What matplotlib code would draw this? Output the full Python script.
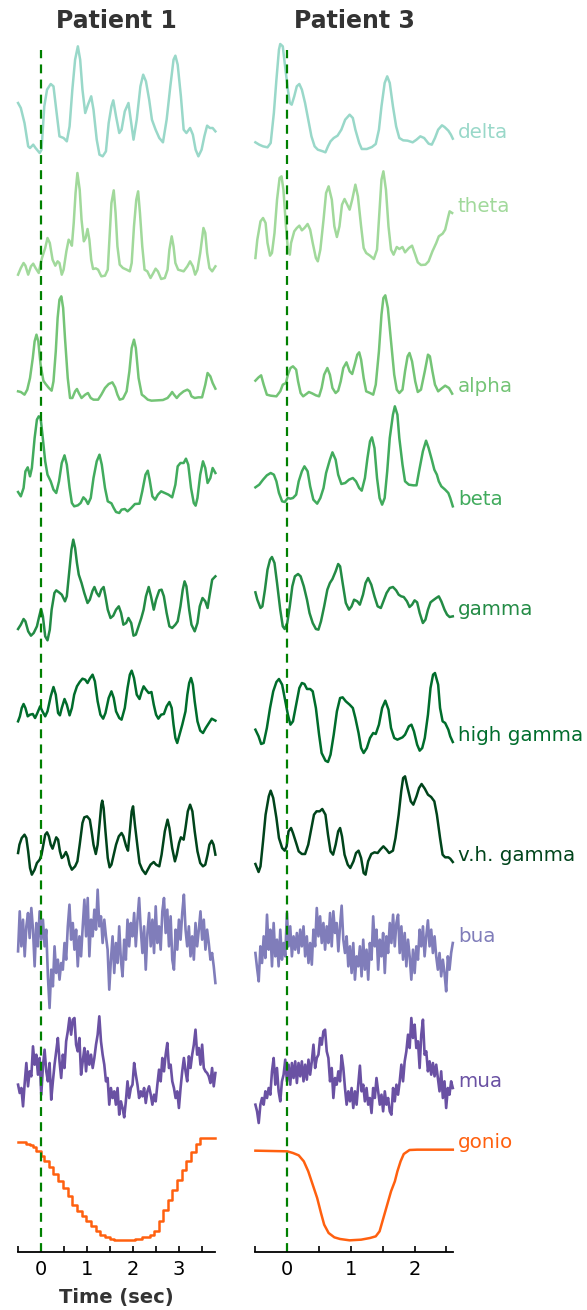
import numpy as np
import matplotlib.pyplot as plt

W, H = 587, 1310

bands = ['delta', 'theta', 'alpha', 'beta', 'gamma', 'high gamma',
         'v.h. gamma', 'bua', 'mua', 'gonio']
colors = ['#99d8c9', '#a1d99b', '#74c476', '#41ab5d', '#238b45',
          '#006d2c', '#00441b', '#807dba', '#6a51a3', '#ff600f']

# ---- Patient 1 (time in sec, amplitude in arbitrary units) ----
p1_delta_t = [-0.49, -0.43, -0.35, -0.27, -0.23, -0.16, -0.11, -0.02, 0.02, 0.08,
              0.14, 0.22, 0.28, 0.34, 0.41, 0.50, 0.57, 0.63, 0.69, 0.75,
              0.81, 0.86, 0.91, 0.97, 1.03, 1.10, 1.15, 1.22, 1.28, 1.35,
              1.42, 1.48, 1.54, 1.58, 1.64, 1.71, 1.76, 1.83, 1.91, 1.97,
              2.02, 2.09, 2.17, 2.23, 2.29, 2.36, 2.42, 2.50, 2.58, 2.66,
              2.74, 2.82, 2.89, 2.93, 2.98, 3.05, 3.11, 3.17, 3.25, 3.31,
              3.37, 3.43, 3.50, 3.56, 3.62, 3.68, 3.74, 3.80]
p1_delta = [21.0, 19.5, 15.0, 8.0, 7.5, 8.5, 7.5, 6.0, 7.0, 20.0,
            25.0, 26.7, 26.0, 19.0, 11.0, 10.5, 9.5, 14.0, 25.0, 34.0,
            38.0, 34.0, 25.0, 18.0, 20.5, 23.0, 19.0, 10.0, 5.5, 5.0,
            6.5, 15.0, 20.0, 21.8, 17.0, 12.0, 13.0, 18.5, 21.0, 15.0,
            10.0, 16.0, 26.0, 29.5, 27.5, 22.0, 16.0, 13.0, 10.5, 9.2,
            16.0, 26.0, 34.0, 35.2, 32.5, 23.0, 13.0, 12.0, 13.5, 11.5,
            7.0, 5.0, 7.0, 11.0, 14.2, 13.5, 13.5, 12.5]

p1_theta_t = [-0.49, -0.43, -0.37, -0.33, -0.27, -0.21, -0.16, -0.11, -0.04, -0.02,
              0.03, 0.10, 0.15, 0.20, 0.26, 0.32, 0.37, 0.41, 0.46, 0.50,
              0.56, 0.61, 0.65, 0.68, 0.72, 0.76, 0.80, 0.85, 0.89, 0.94,
              0.98, 1.02, 1.06, 1.10, 1.14, 1.20, 1.25, 1.32, 1.40, 1.46,
              1.50, 1.54, 1.59, 1.63, 1.67, 1.72, 1.79, 1.87, 1.94, 1.98,
              2.03, 2.08, 2.12, 2.16, 2.21, 2.26, 2.32, 2.39, 2.45, 2.50,
              2.55, 2.62, 2.70, 2.76, 2.80, 2.85, 2.89, 2.93, 2.99, 3.11,
              3.19, 3.25, 3.31, 3.36, 3.41, 3.47, 3.54, 3.58, 3.62, 3.67,
              3.73, 3.80]
p1_theta = [5.5, 7.5, 9.0, 8.2, 5.5, 8.0, 8.8, 7.5, 6.0, 7.5,
            10.5, 13.5, 16.5, 15.0, 10.0, 8.2, 9.5, 9.0, 5.5, 7.0,
            12.5, 16.0, 15.2, 14.2, 21.0, 30.0, 36.0, 31.0, 22.0, 15.5,
            16.5, 19.2, 16.0, 10.0, 7.2, 7.4, 7.0, 5.0, 5.2, 7.0,
            17.0, 27.0, 30.8, 24.0, 14.0, 8.5, 7.5, 7.0, 6.5, 9.0,
            20.0, 28.0, 30.5, 24.0, 14.0, 7.0, 6.5, 4.5, 6.0, 7.3,
            6.5, 4.2, 4.5, 7.0, 13.0, 17.0, 14.0, 9.0, 7.0, 6.5,
            8.0, 9.5, 8.0, 5.5, 7.0, 12.0, 19.5, 18.0, 12.0, 7.5,
            6.5, 8.0]

p1_alpha_t = [-0.49, -0.43, -0.35, -0.29, -0.23, -0.17, -0.13, -0.09, -0.05, 0.00,
              0.06, 0.11, 0.18, 0.24, 0.28, 0.33, 0.37, 0.41, 0.45, 0.49,
              0.53, 0.59, 0.64, 0.69, 0.75, 0.79, 0.83, 0.89, 0.97, 1.03,
              1.09, 1.15, 1.25, 1.32, 1.40, 1.48, 1.56, 1.62, 1.67, 1.72,
              1.79, 1.87, 1.93, 1.98, 2.03, 2.07, 2.13, 2.20, 2.25, 2.33,
              2.41, 2.54, 2.66, 2.76, 2.82, 2.86, 2.90, 2.96, 3.02, 3.11,
              3.19, 3.24, 3.28, 3.35, 3.43, 3.51, 3.58, 3.63, 3.69, 3.74,
              3.80]
p1_alpha = [8.0, 7.8, 7.0, 8.5, 12.0, 18.0, 23.0, 25.0, 23.0, 16.0,
            11.2, 10.2, 9.0, 8.2, 11.0, 20.0, 30.0, 35.5, 36.5, 33.0,
            24.0, 12.0, 6.0, 6.0, 8.0, 8.7, 7.5, 6.0, 7.0, 7.5,
            6.0, 5.5, 5.5, 7.0, 9.0, 10.2, 10.7, 9.2, 7.0, 5.5,
            5.8, 8.0, 14.0, 21.0, 23.5, 21.0, 12.0, 7.0, 6.5, 5.5,
            5.2, 5.3, 5.4, 6.0, 7.0, 7.8, 7.0, 6.0, 7.0, 8.0,
            8.5, 8.0, 6.5, 6.0, 6.2, 6.2, 10.0, 13.5, 12.5, 10.5,
            8.8]

p1_beta_t = [-0.49, -0.43, -0.37, -0.33, -0.28, -0.23, -0.19, -0.13, -0.08, -0.04,
             0.00, 0.04, 0.10, 0.15, 0.22, 0.28, 0.34, 0.40, 0.46, 0.52,
             0.57, 0.63, 0.68, 0.73, 0.81, 0.87, 0.93, 0.98, 1.03, 1.09,
             1.15, 1.22, 1.28, 1.33, 1.40, 1.46, 1.54, 1.59, 1.64, 1.71,
             1.76, 1.83, 1.89, 1.97, 2.05, 2.15, 2.21, 2.28, 2.33, 2.37,
             2.43, 2.49, 2.55, 2.62, 2.70, 2.78, 2.86, 2.93, 2.98, 3.04,
             3.11, 3.16, 3.21, 3.27, 3.33, 3.37, 3.41, 3.47, 3.53, 3.58,
             3.63, 3.69, 3.74, 3.80]
p1_beta = [13.8, 12.5, 15.0, 20.0, 21.2, 18.5, 21.0, 30.0, 35.5, 36.5,
           36.0, 31.0, 23.0, 19.0, 17.0, 14.5, 13.5, 17.0, 22.5, 24.8,
           22.0, 15.0, 10.5, 9.5, 9.8, 10.5, 12.2, 11.5, 10.2, 12.0,
           18.0, 23.0, 25.0, 22.0, 15.0, 11.0, 10.4, 9.0, 7.8, 7.5,
           8.5, 8.7, 8.0, 9.0, 10.2, 10.3, 14.0, 19.0, 20.2, 17.5,
           12.5, 11.5, 13.0, 14.0, 13.5, 13.0, 12.2, 16.0, 21.5, 22.5,
           22.5, 23.8, 22.0, 15.0, 10.5, 9.7, 12.0, 19.0, 23.0, 21.0,
           16.5, 18.0, 21.0, 19.5]

p1_gamma_t = [-0.49, -0.43, -0.37, -0.33, -0.27, -0.21, -0.15, -0.08, -0.03, 0.01,
              0.05, 0.10, 0.15, 0.20, 0.24, 0.30, 0.34, 0.40, 0.46, 0.53,
              0.57, 0.62, 0.67, 0.71, 0.75, 0.79, 0.83, 0.89, 0.95, 1.02,
              1.07, 1.13, 1.17, 1.22, 1.27, 1.32, 1.37, 1.41, 1.46, 1.52,
              1.58, 1.64, 1.70, 1.75, 1.80, 1.86, 1.91, 1.97, 2.02, 2.07,
              2.13, 2.19, 2.24, 2.29, 2.35, 2.40, 2.46, 2.51, 2.58, 2.63,
              2.68, 2.74, 2.80, 2.86, 2.93, 2.98, 3.04, 3.09, 3.13, 3.17,
              3.23, 3.28, 3.35, 3.41, 3.46, 3.52, 3.58, 3.63, 3.67, 3.73,
              3.80]
p1_gamma = [10.2, 11.5, 13.2, 12.5, 9.5, 8.2, 9.0, 11.0, 14.0, 16.2,
            14.0, 8.0, 6.8, 10.0, 16.0, 21.0, 21.8, 21.2, 20.5, 18.5,
            20.0, 27.0, 34.0, 37.0, 34.5, 30.0, 26.5, 24.0, 21.0, 18.0,
            19.0, 21.7, 22.8, 21.0, 20.0, 22.0, 22.8, 20.0, 16.0, 13.5,
            14.2, 16.0, 17.0, 15.0, 11.5, 12.0, 13.5, 12.0, 8.2, 8.5,
            11.0, 13.5, 16.0, 20.0, 22.8, 20.0, 16.0, 19.0, 21.8, 22.0,
            20.0, 15.0, 11.0, 10.5, 11.5, 12.5, 17.0, 22.0, 24.5, 23.0,
            16.0, 11.5, 9.5, 12.0, 17.0, 19.5, 18.5, 16.5, 20.0, 25.0,
            26.0]

p1_hgamma_t = [-0.49, -0.45, -0.41, -0.37, -0.33, -0.28, -0.23, -0.17, -0.12, -0.07,
               -0.01, 0.04, 0.10, 0.15, 0.22, 0.28, 0.33, 0.38, 0.42, 0.46,
               0.52, 0.57, 0.63, 0.68, 0.73, 0.79, 0.85, 0.91, 0.97, 1.02,
               1.07, 1.13, 1.18, 1.24, 1.30, 1.36, 1.41, 1.48, 1.54, 1.59,
               1.64, 1.71, 1.76, 1.83, 1.89, 1.94, 1.98, 2.03, 2.09, 2.15,
               2.20, 2.24, 2.29, 2.35, 2.41, 2.46, 2.51, 2.56, 2.62, 2.68,
               2.74, 2.80, 2.85, 2.89, 2.93, 2.97, 3.02, 3.08, 3.15, 3.19,
               3.23, 3.27, 3.31, 3.35, 3.41, 3.47, 3.53, 3.59, 3.66, 3.72,
               3.80]
p1_hgamma = [20.0, 21.5, 24.0, 25.2, 24.0, 21.5, 22.0, 22.2, 21.0, 22.5,
             24.5, 23.0, 21.5, 23.0, 27.5, 30.3, 28.0, 22.5, 21.8, 24.0,
             26.7, 25.0, 21.8, 24.0, 28.0, 30.5, 31.8, 32.8, 32.5, 31.5,
             32.8, 34.0, 32.0, 26.0, 22.0, 20.8, 22.5, 27.0, 29.0, 27.0,
             23.0, 21.0, 20.5, 24.0, 30.0, 34.0, 35.2, 33.0, 28.0, 26.7,
             29.0, 30.5, 29.5, 28.5, 28.8, 25.0, 22.0, 20.8, 22.0, 22.2,
             24.5, 25.8, 24.0, 19.0, 15.0, 13.5, 16.0, 19.0, 23.0, 28.0,
             31.5, 33.0, 31.0, 26.0, 20.0, 17.2, 16.5, 18.0, 19.5, 20.8,
             20.2]

p1_vhgamma_t = [-0.49, -0.46, -0.41, -0.35, -0.31, -0.27, -0.23, -0.19, -0.13, -0.08,
                -0.02, 0.02, 0.06, 0.10, 0.14, 0.18, 0.22, 0.26, 0.30, 0.34,
                0.38, 0.42, 0.46, 0.50, 0.55, 0.59, 0.63, 0.68, 0.75, 0.80,
                0.85, 0.91, 0.95, 1.01, 1.07, 1.11, 1.15, 1.20, 1.24, 1.28,
                1.32, 1.34, 1.37, 1.41, 1.46, 1.50, 1.54, 1.59, 1.64, 1.70,
                1.76, 1.80, 1.86, 1.90, 1.94, 1.98, 2.01, 2.05, 2.11, 2.15,
                2.21, 2.28, 2.33, 2.39, 2.46, 2.51, 2.58, 2.63, 2.70, 2.76,
                2.80, 2.86, 2.92, 2.96, 3.01, 3.05, 3.11, 3.15, 3.20, 3.25,
                3.30, 3.35, 3.41, 3.47, 3.53, 3.58, 3.63, 3.67, 3.72, 3.76,
                3.80]
p1_vhgamma = [13.5, 16.0, 18.0, 19.0, 18.0, 14.0, 9.0, 7.0, 8.5, 10.5,
              11.5, 13.0, 16.0, 19.0, 19.7, 18.5, 16.0, 14.8, 16.5, 18.2,
              17.5, 14.0, 12.0, 12.5, 13.8, 12.5, 10.0, 8.5, 9.5, 11.0,
              16.0, 22.5, 24.2, 24.5, 23.5, 20.0, 16.0, 13.2, 16.0, 22.0,
              28.0, 29.2, 27.0, 20.0, 12.0, 9.2, 10.0, 13.0, 16.0, 18.5,
              19.5, 18.5, 15.5, 14.2, 20.0, 26.0, 27.5, 22.0, 15.0, 10.5,
              8.5, 7.2, 8.5, 10.0, 10.8, 10.0, 9.5, 13.0, 20.0, 23.5,
              21.0, 15.0, 11.0, 13.0, 16.5, 18.2, 17.5, 21.0, 26.0, 28.0,
              26.0, 20.0, 14.0, 10.5, 9.5, 10.0, 13.0, 16.0, 17.2, 16.0,
              13.0]

# noisy traces sampled on an even time base
p1_bua = [18.5, 30.5, 20.0, 28.0, 17.0, 26.0, 30.0, 22.5, 31.5, 25.0,
          14.0, 27.0, 20.0, 30.5, 22.0, 28.0, 20.0, 25.0, 11.0, 1.5,
          13.0, 8.0, 20.0, 12.0, 16.0, 10.0, 15.0, 13.0, 21.0, 16.0,
          26.0, 32.5, 22.0, 27.0, 19.0, 25.0, 14.0, 23.0, 17.0, 26.0,
          34.0, 23.0, 34.5, 17.0, 28.0, 23.0, 31.0, 25.0, 37.0, 26.0,
          29.0, 21.0, 28.0, 23.0, 19.0, 7.0, 16.0, 23.0, 12.0, 21.0,
          15.0, 26.0, 16.0, 11.0, 22.0, 16.0, 28.0, 20.0, 27.0, 23.0,
          30.0, 20.0, 28.0, 34.5, 25.0, 18.0, 26.0, 13.0, 24.0, 30.0,
          20.0, 28.0, 18.0, 32.0, 21.0, 26.0, 19.0, 30.5, 34.5, 24.0,
          31.0, 20.0, 29.0, 16.0, 13.0, 25.0, 19.0, 28.0, 22.0, 30.0,
          35.5, 25.0, 20.0, 26.0, 17.0, 23.0, 16.0, 27.0, 20.0, 25.0,
          30.5, 22.0, 28.0, 19.0, 25.0, 21.0, 16.0, 18.0, 14.0, 9.0]
p1_bua_t = np.linspace(-0.49, 3.80, len(p1_bua))

p1_mua = [16.0, 13.5, 15.0, 9.5, 16.5, 22.5, 15.5, 20.0, 18.5, 27.5,
          22.0, 25.0, 19.0, 24.0, 13.0, 21.5, 26.5, 20.0, 17.0, 22.5,
          11.5, 17.0, 22.0, 26.0, 30.0, 23.0, 18.0, 25.0, 21.0, 29.0,
          32.0, 36.0, 31.0, 35.5, 36.0, 28.0, 26.0, 30.0, 19.0, 23.0,
          27.0, 20.0, 26.0, 22.0, 25.0, 21.0, 24.0, 28.0, 31.0, 36.5,
          29.0, 25.0, 22.0, 17.0, 18.0, 10.0, 15.0, 12.0, 14.0, 10.0,
          15.0, 7.0, 11.0, 9.0, 6.2, 11.0, 17.0, 12.0, 15.0, 16.0,
          22.5, 19.0, 16.0, 12.0, 14.0, 12.5, 15.0, 10.5, 14.0, 15.5,
          13.0, 10.0, 13.0, 11.0, 16.0, 20.5, 17.0, 24.0, 20.0, 25.0,
          28.5, 21.0, 22.0, 17.0, 15.0, 12.0, 14.0, 9.0, 15.0, 20.0,
          24.0, 20.0, 17.0, 24.5, 21.0, 25.0, 28.0, 32.5, 25.0, 27.0,
          22.0, 28.0, 21.0, 20.0, 19.5, 18.5, 16.5, 21.0, 15.5, 19.5]
p1_mua_t = np.linspace(-0.49, 3.80, len(p1_mua))

p1_gonio_t = [-0.49, -0.31, -0.23, -0.16, -0.11, 0.00, 0.08, 0.18, 0.28, 0.38,
              0.49, 0.59, 0.69, 0.79, 0.89, 0.99, 1.09, 1.20, 1.30, 1.40,
              1.50, 1.60, 1.89, 2.05, 2.21, 2.37, 2.47, 2.58, 2.67, 2.76,
              2.86, 2.96, 3.07, 3.16, 3.27, 3.37, 3.47, 3.80]
p1_gonio = [34.8, 34.3, 33.8, 33.2, 32.0, 30.5, 29.2, 27.2, 25.2, 23.0,
            21.0, 18.7, 16.0, 14.0, 12.5, 11.0, 9.7, 8.2, 7.0, 6.2,
            5.8, 5.5, 5.5, 5.8, 6.2, 7.0, 8.2, 11.2, 14.5, 17.5,
            20.5, 23.5, 26.5, 29.2, 31.8, 34.3, 36.0, 36.0]

# ---- Patient 3 ----
p3_delta_t = [-0.50, -0.44, -0.38, -0.31, -0.26, -0.21, -0.17, -0.13, -0.11, -0.07,
              -0.04, 0.01, 0.04, 0.07, 0.11, 0.15, 0.19, 0.23, 0.28, 0.33,
              0.38, 0.43, 0.48, 0.56, 0.60, 0.64, 0.68, 0.73, 0.79, 0.85,
              0.91, 0.98, 1.03, 1.07, 1.13, 1.17, 1.25, 1.33, 1.39, 1.44,
              1.48, 1.53, 1.57, 1.61, 1.66, 1.71, 1.76, 1.82, 1.89, 1.97,
              2.03, 2.09, 2.15, 2.22, 2.27, 2.32, 2.37, 2.43, 2.47, 2.53,
              2.57, 2.60]
p3_delta = [9.2, 8.5, 8.0, 7.7, 9.0, 18.0, 28.0, 37.0, 38.7, 38.0,
            33.0, 25.0, 21.0, 20.5, 23.0, 26.0, 26.7, 25.0, 21.0, 16.0,
            11.0, 8.0, 7.0, 6.5, 6.2, 8.0, 9.5, 10.5, 11.2, 13.0,
            16.0, 17.5, 16.5, 13.0, 9.0, 7.2, 7.2, 7.8, 8.7, 13.0,
            20.0, 27.0, 29.0, 27.0, 20.0, 14.0, 10.5, 9.8, 9.7, 9.2,
            10.0, 11.0, 10.5, 8.8, 8.5, 10.5, 13.0, 14.3, 13.8, 12.7,
            11.5, 10.3]

p3_theta_t = [-0.50, -0.47, -0.42, -0.38, -0.34, -0.31, -0.27, -0.24, -0.20, -0.16,
              -0.12, -0.09, -0.06, -0.02, 0.01, 0.04, 0.06, 0.11, 0.15, 0.19,
              0.23, 0.27, 0.32, 0.36, 0.40, 0.45, 0.48, 0.52, 0.57, 0.61,
              0.65, 0.70, 0.74, 0.78, 0.82, 0.86, 0.90, 0.93, 0.98, 1.02,
              1.07, 1.11, 1.16, 1.20, 1.24, 1.30, 1.36, 1.41, 1.45, 1.48,
              1.51, 1.55, 1.59, 1.63, 1.67, 1.72, 1.76, 1.81, 1.85, 1.91,
              1.96, 2.01, 2.05, 2.10, 2.17, 2.22, 2.28, 2.34, 2.38, 2.44,
              2.48, 2.53, 2.55, 2.59]
p3_theta = [10.5, 16.0, 21.5, 22.5, 21.0, 15.0, 11.2, 12.0, 18.0, 28.0,
            34.5, 35.0, 31.0, 20.0, 13.0, 11.5, 15.0, 18.5, 19.5, 20.2,
            18.8, 19.5, 20.7, 19.0, 15.0, 10.5, 9.5, 13.0, 22.0, 30.0,
            32.0, 28.0, 20.0, 16.8, 20.0, 26.5, 28.2, 27.0, 25.0, 28.0,
            32.5, 29.0, 20.0, 13.5, 12.0, 11.2, 10.2, 13.0, 25.0, 34.0,
            36.5, 31.0, 20.0, 13.0, 11.5, 13.8, 13.2, 13.8, 12.2, 13.5,
            14.2, 11.5, 9.2, 8.4, 8.5, 9.5, 12.5, 15.0, 17.0, 17.8,
            19.0, 23.0, 24.5, 24.0]

p3_alpha_t = [-0.50, -0.45, -0.41, -0.37, -0.32, -0.26, -0.17, -0.11, -0.07, -0.02,
              0.01, 0.05, 0.09, 0.14, 0.17, 0.21, 0.25, 0.30, 0.34, 0.39,
              0.45, 0.50, 0.54, 0.58, 0.63, 0.67, 0.71, 0.76, 0.80, 0.84,
              0.88, 0.93, 0.98, 1.02, 1.06, 1.10, 1.13, 1.16, 1.20, 1.24,
              1.30, 1.35, 1.39, 1.44, 1.48, 1.51, 1.54, 1.58, 1.63, 1.68,
              1.72, 1.76, 1.81, 1.85, 1.89, 1.92, 1.96, 2.01, 2.05, 2.10,
              2.16, 2.21, 2.24, 2.28, 2.32, 2.37, 2.42, 2.48, 2.54, 2.59]
p3_alpha = [11.2, 12.2, 12.8, 10.0, 7.0, 6.7, 6.5, 8.0, 10.0, 10.5,
            13.0, 15.0, 15.5, 14.5, 11.0, 7.5, 6.5, 7.2, 7.8, 7.4,
            6.8, 6.5, 9.0, 13.0, 15.0, 13.0, 9.0, 7.5, 8.2, 11.0,
            15.0, 16.7, 14.0, 13.2, 16.0, 19.0, 19.7, 17.5, 12.0, 8.0,
            7.5, 7.0, 10.0, 20.0, 31.0, 36.0, 36.8, 33.0, 23.0, 13.0,
            8.5, 7.5, 8.5, 14.0, 18.5, 19.5, 17.0, 11.0, 7.8, 8.5,
            14.0, 19.0, 18.5, 14.0, 10.0, 8.0, 8.8, 9.7, 9.0, 7.3]

p3_beta_t = [-0.50, -0.44, -0.38, -0.32, -0.26, -0.21, -0.17, -0.13, -0.08, -0.04,
             0.01, 0.05, 0.09, 0.14, 0.18, 0.23, 0.27, 0.32, 0.36, 0.41,
             0.47, 0.52, 0.57, 0.61, 0.67, 0.71, 0.76, 0.80, 0.85, 0.91,
             0.97, 1.03, 1.08, 1.13, 1.17, 1.22, 1.26, 1.30, 1.33, 1.37,
             1.41, 1.45, 1.49, 1.53, 1.57, 1.61, 1.66, 1.69, 1.73, 1.76,
             1.81, 1.85, 1.91, 1.98, 2.03, 2.07, 2.13, 2.18, 2.22, 2.27,
             2.31, 2.35, 2.38, 2.42, 2.48, 2.53, 2.56, 2.60]
p3_beta = [15.2, 16.0, 17.5, 18.8, 19.5, 19.0, 17.0, 13.5, 11.0, 10.8,
           12.0, 11.8, 12.0, 13.0, 17.0, 20.0, 21.5, 20.0, 15.5, 11.5,
           10.3, 12.0, 15.0, 19.5, 23.5, 25.7, 23.5, 19.0, 16.2, 16.5,
           17.5, 18.0, 17.0, 15.0, 14.2, 18.0, 24.0, 29.0, 30.2, 27.0,
           18.0, 12.0, 10.0, 12.0, 20.0, 30.0, 37.0, 39.5, 37.0, 30.0,
           22.0, 17.0, 16.0, 15.8, 15.8, 20.0, 26.0, 29.2, 27.0, 23.5,
           20.5, 19.0, 17.0, 15.5, 14.5, 13.5, 12.0, 9.5]

p3_gamma_t = [-0.50, -0.47, -0.42, -0.39, -0.35, -0.31, -0.27, -0.24, -0.20, -0.16,
              -0.11, -0.07, -0.04, 0.00, 0.04, 0.08, 0.12, 0.17, 0.21, 0.26,
              0.31, 0.35, 0.40, 0.45, 0.49, 0.53, 0.58, 0.63, 0.67, 0.71,
              0.76, 0.80, 0.83, 0.87, 0.92, 0.97, 1.01, 1.05, 1.10, 1.14,
              1.19, 1.23, 1.27, 1.32, 1.37, 1.42, 1.47, 1.51, 1.56, 1.61,
              1.66, 1.71, 1.75, 1.79, 1.83, 1.88, 1.92, 1.96, 2.00, 2.04,
              2.08, 2.13, 2.17, 2.21, 2.25, 2.29, 2.34, 2.38, 2.42, 2.47,
              2.51, 2.55, 2.60]
p3_gamma = [21.2, 19.0, 16.5, 17.0, 22.0, 28.0, 31.0, 31.8, 30.0, 24.0,
            16.0, 11.0, 10.2, 12.0, 17.0, 23.0, 26.0, 26.7, 26.0, 23.0,
            19.0, 15.0, 12.0, 10.2, 10.0, 12.5, 17.0, 22.0, 24.0, 25.2,
            27.5, 29.7, 29.0, 24.0, 18.0, 16.0, 17.0, 19.0, 18.5, 17.5,
            20.5, 24.0, 25.5, 23.5, 20.0, 17.0, 16.5, 18.5, 21.0, 22.5,
            22.8, 21.8, 20.5, 20.0, 19.8, 18.5, 16.8, 17.5, 18.8, 18.2,
            15.0, 12.0, 13.0, 16.0, 18.2, 18.8, 19.5, 20.0, 18.5, 16.0,
            14.5, 13.8, 14.0]

p3_hgamma_t = [-0.50, -0.45, -0.41, -0.37, -0.32, -0.27, -0.22, -0.17, -0.13, -0.08,
               -0.04, 0.01, 0.05, 0.09, 0.14, 0.19, 0.23, 0.27, 0.31, 0.36,
               0.40, 0.45, 0.50, 0.54, 0.60, 0.64, 0.68, 0.73, 0.78, 0.83,
               0.87, 0.92, 0.98, 1.03, 1.07, 1.12, 1.16, 1.20, 1.25, 1.30,
               1.35, 1.39, 1.44, 1.49, 1.54, 1.59, 1.63, 1.68, 1.73, 1.81,
               1.85, 1.91, 1.95, 1.99, 2.04, 2.08, 2.12, 2.16, 2.21, 2.25,
               2.29, 2.32, 2.37, 2.40, 2.44, 2.48, 2.53, 2.56, 2.60]
p3_hgamma = [17.5, 15.5, 13.2, 13.5, 18.0, 24.0, 29.0, 31.8, 32.7, 31.0,
             27.0, 22.0, 19.0, 20.0, 25.0, 30.0, 31.5, 31.2, 29.7, 29.7,
             29.0, 24.0, 16.0, 10.5, 8.2, 7.8, 10.0, 16.0, 23.0, 27.0,
             27.2, 26.0, 25.0, 24.0, 21.0, 16.5, 12.0, 10.5, 12.0, 15.0,
             16.5, 16.2, 19.0, 24.0, 26.2, 23.5, 18.0, 15.0, 14.5, 15.2,
             16.0, 18.5, 19.0, 17.0, 13.0, 11.2, 12.0, 15.0, 22.0, 30.0,
             34.0, 34.5, 31.0, 24.0, 20.0, 19.5, 17.5, 15.5, 13.8]

p3_vhgamma_t = [-0.50, -0.45, -0.42, -0.38, -0.34, -0.29, -0.26, -0.22, -0.17, -0.13,
                -0.08, -0.04, -0.01, 0.02, 0.06, 0.09, 0.14, 0.18, 0.23, 0.28,
                0.33, 0.38, 0.42, 0.46, 0.51, 0.55, 0.60, 0.64, 0.68, 0.72,
                0.76, 0.80, 0.83, 0.86, 0.90, 0.95, 0.99, 1.04, 1.08, 1.12,
                1.16, 1.20, 1.23, 1.27, 1.32, 1.37, 1.42, 1.46, 1.51, 1.56,
                1.60, 1.66, 1.70, 1.75, 1.79, 1.82, 1.85, 1.89, 1.94, 1.98,
                2.03, 2.07, 2.11, 2.16, 2.21, 2.26, 2.31, 2.35, 2.40, 2.44,
                2.48, 2.53, 2.56, 2.60]
p3_vhgamma = [10.2, 7.8, 9.5, 17.0, 25.0, 30.5, 32.2, 30.0, 24.0, 18.0,
              15.0, 14.2, 15.5, 20.0, 21.0, 19.5, 16.5, 14.0, 13.2, 13.2,
              16.0, 21.0, 25.0, 26.0, 26.0, 26.7, 25.0, 19.0, 14.0, 13.0,
              16.0, 20.0, 21.0, 18.5, 13.0, 10.0, 9.0, 11.0, 13.5, 14.2,
              12.0, 7.5, 7.0, 11.0, 13.2, 13.7, 13.5, 14.5, 15.5, 14.5,
              13.5, 14.2, 18.0, 25.0, 32.0, 36.0, 36.5, 33.0, 29.0, 28.0,
              30.5, 33.0, 34.2, 32.8, 31.0, 30.3, 29.0, 25.0, 18.0, 13.0,
              12.2, 12.2, 11.8, 10.8]

p3_bua = [18.0, 13.5, 9.5, 20.0, 15.0, 23.0, 16.5, 29.5, 19.0, 25.0,
          14.0, 27.0, 17.0, 22.0, 14.0, 25.0, 16.0, 21.0, 17.0, 30.0,
          20.0, 26.0, 17.0, 23.0, 19.0, 24.0, 18.0, 25.0, 20.0, 26.0,
          17.0, 23.0, 15.0, 21.0, 14.5, 25.0, 20.0, 31.5, 23.0, 29.0,
          21.0, 27.0, 19.0, 26.0, 21.0, 30.0, 20.0, 30.5, 24.0, 27.0,
          18.5, 26.0, 32.2, 22.0, 18.0, 23.0, 14.0, 20.0, 12.0, 21.0,
          10.0, 17.0, 14.0, 20.0, 11.0, 22.0, 13.0, 19.0, 10.0, 21.0,
          16.0, 29.0, 20.0, 25.0, 13.0, 22.0, 17.0, 24.0, 12.0, 23.0,
          18.0, 27.0, 21.0, 29.5, 20.0, 27.0, 29.5, 18.0, 26.0, 16.0,
          24.0, 14.0, 22.0, 17.0, 10.0, 19.0, 12.0, 20.0, 16.0, 25.0,
          20.0, 26.0, 17.0, 23.0, 27.8, 20.0, 25.0, 18.0, 23.0, 17.0,
          13.0, 18.0, 11.0, 16.0, 12.0, 6.5, 17.0, 13.0, 18.0, 21.0]
p3_bua_t = np.linspace(-0.50, 2.60, len(p3_bua))

p3_mua = [10.0, 8.0, 4.5, 10.0, 12.0, 10.0, 14.0, 12.0, 15.0, 13.0,
          20.0, 24.0, 16.0, 21.0, 14.0, 11.0, 17.0, 19.0, 23.5, 17.0,
          22.0, 16.0, 22.5, 18.0, 23.0, 16.5, 22.5, 18.5, 23.0, 17.0,
          22.0, 17.5, 23.5, 19.0, 23.0, 28.0, 21.0, 24.0, 25.0, 30.0,
          28.0, 32.0, 32.5, 26.0, 24.0, 17.0, 21.0, 12.0, 18.0, 16.0,
          20.0, 17.0, 24.8, 21.0, 15.0, 10.0, 14.0, 11.0, 15.0, 9.0,
          14.0, 10.0, 16.0, 21.7, 14.0, 16.0, 11.0, 15.0, 10.0, 12.0,
          7.5, 15.0, 12.0, 18.0, 14.0, 10.0, 13.0, 8.0, 14.0, 10.0,
          12.0, 8.0, 7.0, 15.0, 11.0, 16.0, 13.0, 17.0, 22.0, 17.0,
          23.0, 26.0, 31.0, 27.0, 36.0, 30.0, 34.0, 27.0, 29.0, 21.0,
          31.0, 35.5, 25.0, 26.0, 20.0, 23.0, 19.0, 22.5, 18.5, 22.0,
          18.0, 14.0, 20.0, 12.0, 17.0, 9.0, 15.0, 13.0, 17.0, 15.0]
p3_mua_t = np.linspace(-0.50, 2.60, len(p3_mua))

p3_gonio_t = [-0.50, 0.00, 0.09, 0.18, 0.26, 0.33, 0.40, 0.47, 0.53, 0.58,
              0.65, 0.74, 0.83, 0.98, 1.16, 1.30, 1.39, 1.45, 1.51, 1.57,
              1.63, 1.69, 1.73, 1.78, 1.83, 1.92, 2.04, 2.60]
p3_gonio = [32.2, 32.0, 31.5, 30.8, 29.0, 26.0, 22.0, 18.0, 13.5, 10.0,
            7.5, 6.2, 5.7, 5.3, 5.5, 6.0, 6.5, 8.0, 12.0, 16.0,
            20.0, 23.0, 26.0, 29.0, 31.2, 32.4, 32.5, 32.5]

patient1 = [(p1_delta_t, p1_delta), (p1_theta_t, p1_theta), (p1_alpha_t, p1_alpha),
            (p1_beta_t, p1_beta), (p1_gamma_t, p1_gamma), (p1_hgamma_t, p1_hgamma),
            (p1_vhgamma_t, p1_vhgamma), (p1_bua_t, p1_bua), (p1_mua_t, p1_mua),
            (p1_gonio_t, p1_gonio)]
patient3 = [(p3_delta_t, p3_delta), (p3_theta_t, p3_theta), (p3_alpha_t, p3_alpha),
            (p3_beta_t, p3_beta), (p3_gamma_t, p3_gamma), (p3_hgamma_t, p3_hgamma),
            (p3_vhgamma_t, p3_vhgamma), (p3_bua_t, p3_bua), (p3_mua_t, p3_mua),
            (p3_gonio_t, p3_gonio)]

# layout (pixels of the 587x1310 canvas)
row_base = [173, 293, 418, 538, 663, 788, 898, 1013, 1138, 1258]
unit = 10 / 3
y_bot, y_top = 1252, 30

fig = plt.figure(figsize=(W / 100, H / 100), dpi=100)


def px_axes(x0, x1):
    return fig.add_axes([x0 / W, (H - y_bot) / H, (x1 - x0) / W, (y_bot - y_top) / H])


ax1 = px_axes(17.6, 215.4)
ax1.set_xlim(-0.5, 3.8)
ax3 = px_axes(255.4, 452.8)
ax3.set_xlim(-0.5, 2.6)

for ax, traces in [(ax1, patient1), (ax3, patient3)]:
    ax.set_ylim(-y_bot, -y_top)
    for i, (t, v) in enumerate(traces):
        y = np.array(v) * unit - row_base[i]
        ds = 'steps-post' if (ax is ax1 and bands[i] == 'gonio') else 'default'
        lw = 1.9 if bands[i] in ('bua', 'mua') else 1.8
        ax.plot(t, y, color=colors[i], lw=lw, drawstyle=ds, clip_on=False,
                solid_joinstyle='round')
    ax.plot([0, 0], [-y_bot, -50], color='green', ls=(0, (4, 2.8)), lw=1.6)
    for s in ['top', 'left', 'right']:
        ax.spines[s].set_visible(False)
    ax.spines['bottom'].set_linewidth(1.3)
    ax.set_yticks([])
    ax.tick_params(axis='x', which='both', direction='in', length=4, width=1.2,
                   labelsize=14, pad=6)

ax1.set_xticks([0, 1, 2, 3])
ax1.set_xticks([-0.5, 0.5, 1.5, 2.5, 3.5], minor=True)
ax3.set_xticks([0, 1, 2])
ax3.set_xticks([-0.5, 0.5, 1.5, 2.5], minor=True)

for i, (t, v) in enumerate(patient3):
    ax3.text(2.68, v[-1] * unit - row_base[i] + 2 * unit, bands[i], color=colors[i],
             fontsize=14.3, ha='left', va='center', clip_on=False)

fig.text(116.5 / W, 1 - 21 / H, 'Patient 1', ha='center', va='center',
         fontsize=17, fontweight='bold', color='#333333')
fig.text(354 / W, 1 - 21 / H, 'Patient 3', ha='center', va='center',
         fontsize=17, fontweight='bold', color='#333333')
fig.text(116.5 / W, 1 - 1298 / H, 'Time (sec)', ha='center', va='center',
         fontsize=14, fontweight='bold', color='#333333')

fig.savefig('out.png', dpi=100)
